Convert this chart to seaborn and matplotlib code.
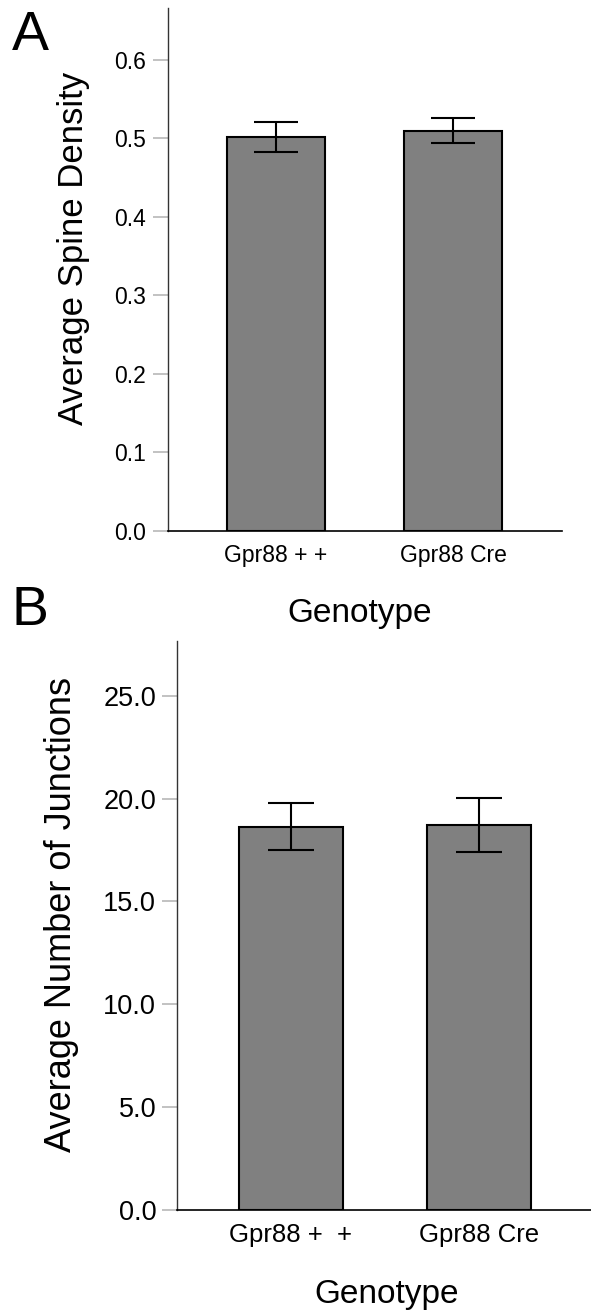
import matplotlib
matplotlib.use("Agg")
import matplotlib.pyplot as plt
import seaborn as sns
import pandas as pd

# ---- data ----
genotype_a = ["Gpr88 + +", "Gpr88 Cre"]
spine_density = [0.5015, 0.5096]
spine_err = [0.0187, 0.0161]
yticks_a = [0.0, 0.1, 0.2, 0.3, 0.4, 0.5, 0.6]

genotype_b = ["Gpr88 +  +", "Gpr88 Cre"]
junctions = [18.64, 18.72]
junctions_err = [1.14, 1.32]
yticks_b = [0.0, 5.0, 10.0, 15.0, 20.0, 25.0]

sns.set_style("white")
plt.rcParams["font.family"] = ["Liberation Sans", "DejaVu Sans"]
plt.rcParams["text.color"] = "black"

W, H = 591, 1315
fig = plt.figure(figsize=(W / 100, H / 100), dpi=100)

def panel(rect, cats, vals, errs, yticks, ylim, xlim, width, capsize,
          ylab, ylab_fs, ytick_fs, xtick_fs, ylab_xy, xlab_xy, tickpad):
    ax = fig.add_axes(rect)
    df = pd.DataFrame({"Genotype": cats, "val": vals})
    sns.barplot(data=df, x="Genotype", y="val", color="#808080", saturation=1,
                width=width, edgecolor="black", linewidth=1.5, errorbar=None, ax=ax)
    ax.errorbar(x=list(range(len(cats))), y=vals, yerr=errs, fmt="none",
                ecolor="black", elinewidth=1.5, capsize=capsize, capthick=1.5)
    ax.set_ylim(*ylim)
    ax.set_xlim(*xlim)
    ax.set_yticks(yticks)
    ax.set_yticklabels([f"{t:.1f}" for t in yticks], fontsize=ytick_fs, color="black")
    ax.tick_params(axis="y", which="both", left=True, length=10.5, width=1.2,
                   color="#b8b8b8", pad=tickpad)
    ax.tick_params(axis="x", bottom=False, labelsize=xtick_fs, pad=6, labelcolor="black")
    for s in ["top", "right"]:
        ax.spines[s].set_visible(False)
    ax.spines["left"].set_color("#333333")
    ax.spines["left"].set_linewidth(1.0)
    ax.spines["bottom"].set_color("black")
    ax.spines["bottom"].set_linewidth(1.2)
    ax.set_ylabel(ylab, fontsize=ylab_fs, color="black")
    ax.set_xlabel("Genotype", fontsize=24, color="black")
    ax.yaxis.set_label_coords(*ylab_xy)
    ax.xaxis.set_label_coords(*xlab_xy)
    ax.set_facecolor("white")
    return ax

# Panel A
axA = panel([168 / W, 1 - 531 / H, (562 - 168) / W, (531 - 8) / H],
            genotype_a, spine_density, spine_err, yticks_a, (0, 0.666), (-0.61, 1.616),
            0.555, 15.8, "Average Spine Density", 25, 16.5, 16.5,
            (-0.198, 0.541), (0.487, -0.128), 5.5)

# Panel B
axB = panel([177 / W, 1 - 1209.5 / H, (591 - 177) / W, (1209.5 - 641) / H],
            genotype_b, junctions, junctions_err, yticks_b, (0, 27.68), (-0.606, 1.596),
            0.55, 16.5, "Average Number of Junctions", 26, 19.5, 18.5,
            (-0.237, 0.519), (0.507, -0.122), 4.5)

fig.text(12 / W, 1 - 10 / H, "A", fontsize=40, va="top", ha="left", color="black")
fig.text(12 / W, 1 - 585 / H, "B", fontsize=40, va="top", ha="left", color="black")

fig.savefig("out.png", dpi=100, facecolor="white")
